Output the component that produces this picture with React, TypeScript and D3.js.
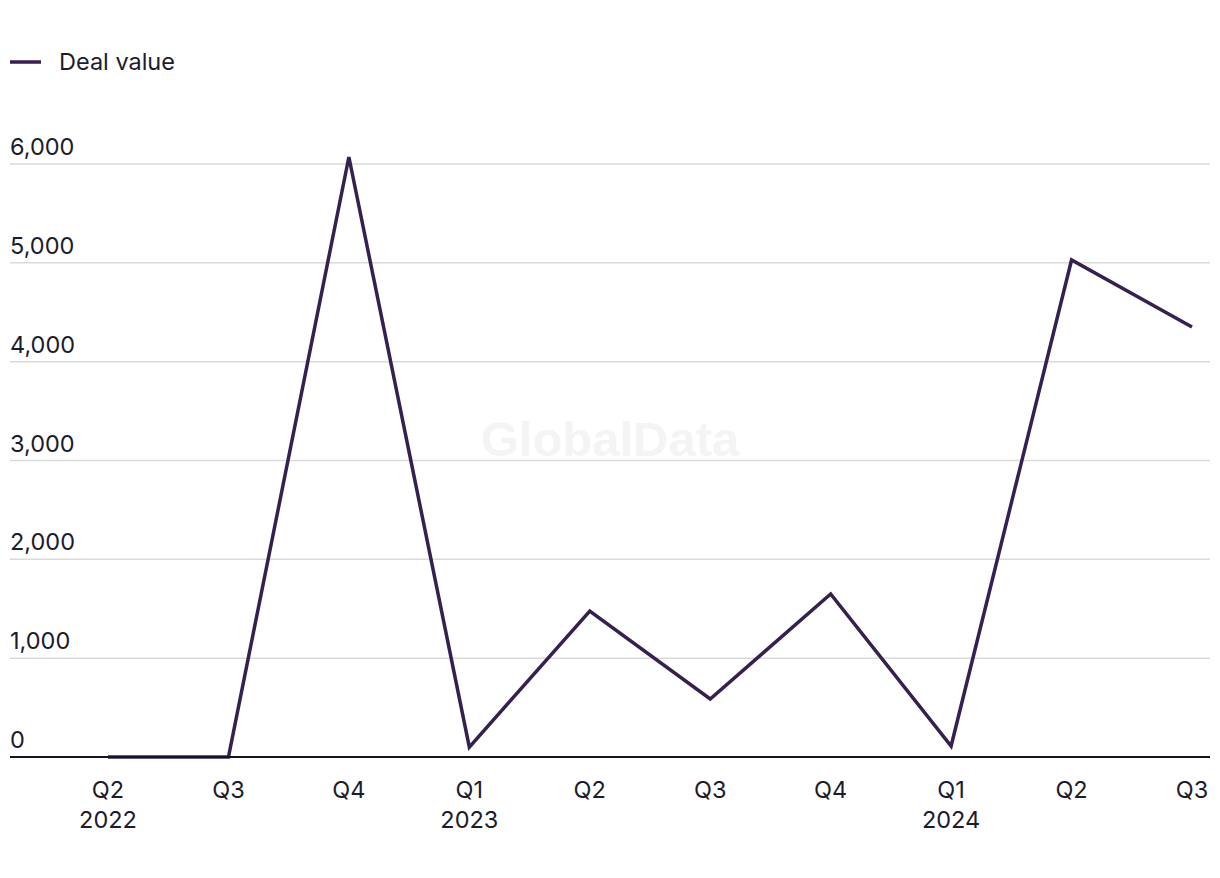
import React from 'react';
import * as d3 from 'd3';

const quarters = ['Q2', 'Q3', 'Q4', 'Q1', 'Q2', 'Q3', 'Q4', 'Q1', 'Q2', 'Q3'];
const years = ['2022', '', '', '2023', '', '', '', '2024', '', ''];
const dealValue = [0, 0, 6071, 100, 1477, 587, 1649, 111, 5029, 4351];
const yTicks = [0, 1000, 2000, 3000, 4000, 5000, 6000];

const W = 1220;
const H = 878;
const FONT = 'Inter, "Noto Sans", sans-serif';

export default function App() {
  const idx = quarters.map((_, i) => i);
  const x = d3.scalePoint<number>().domain(idx).range([108, 1192]);
  const y = d3.scaleLinear().domain([0, 6000]).range([757, 164]);

  const line = d3
    .line<number>()
    .x((_, i) => x(i) as number)
    .y(d => y(d));

  const fmt = d3.format(',');

  return (
    <svg
      width={W}
      height={H}
      style={{ position: 'absolute', left: 0, top: 0, background: '#fff' }}
      fontFamily={FONT}
    >
      {/* legend */}
      <line x1={10} x2={41} y1={62} y2={62} stroke="#35204f" strokeWidth={3.5} />
      <text x={59} y={70} fontSize={23.5} fill="#1c1c2c">
        Deal value
      </text>

      {/* watermark */}
      <text
        x={610}
        y={456}
        textAnchor="middle"
        fontSize={49}
        fontWeight={700}
        fill="#f4f4f4"
        fontFamily='"Liberation Sans", Arial, sans-serif'
      >
        GlobalData
      </text>

      {/* grid + y labels */}
      {yTicks.map(t => (
        <g key={t}>
          {t !== 0 && (
            <line x1={10} x2={1210} y1={y(t)} y2={y(t)} stroke="#dadada" strokeWidth={1.5} />
          )}
          <text x={10} y={y(t) - 9} fontSize={23.5} fill="#1c1c2c">
            {fmt(t)}
          </text>
        </g>
      ))}

      {/* series */}
      <path d={line(dealValue) || ''} fill="none" stroke="#35204f" strokeWidth={3.5} strokeLinejoin="miter" />

      {/* baseline */}
      <line x1={10} x2={1210} y1={y(0)} y2={y(0)} stroke="#141425" strokeWidth={2} />

      {/* x labels */}
      {quarters.map((q, i) => (
        <g key={i} transform={`translate(${x(i)},0)`}>
          <text y={798} textAnchor="middle" fontSize={23.5} fill="#1c1c2c">
            {q}
          </text>
          {years[i] && (
            <text y={828} textAnchor="middle" fontSize={23.5} fill="#1c1c2c">
              {years[i]}
            </text>
          )}
        </g>
      ))}
    </svg>
  );
}
